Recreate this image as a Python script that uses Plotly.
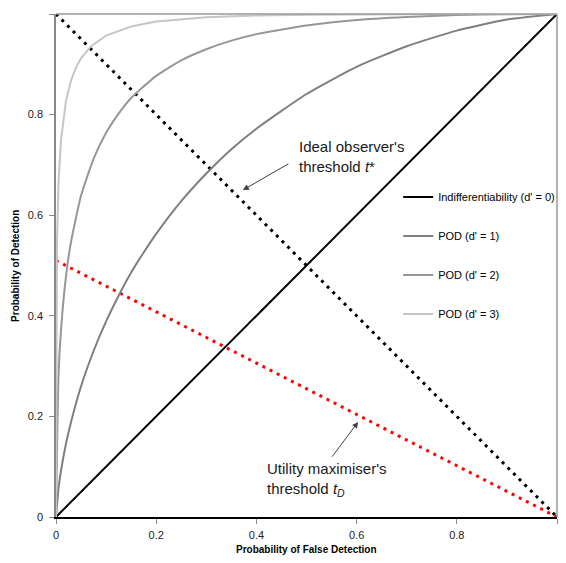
import plotly.graph_objects as go

# Indifferentiability line (d' = 0)
far_d0 = [0.0, 1.0]
pod_d0 = [0.0, 1.0]

# POD curves
far_d1 = [0, 0.005, 0.01, 0.02, 0.03, 0.05, 0.075, 0.1, 0.125, 0.15, 0.175, 0.2, 0.25, 0.3, 0.35, 0.4, 0.5, 0.6, 0.7, 0.8, 0.9, 1.0]
pod_d1 = [0, 0.057, 0.092, 0.146, 0.189, 0.260, 0.330, 0.389, 0.440, 0.486, 0.526, 0.563, 0.628, 0.683, 0.731, 0.772, 0.841, 0.895, 0.936, 0.967, 0.989, 1.0]

far_d2 = [0, 0.005, 0.01, 0.02, 0.03, 0.05, 0.075, 0.1, 0.125, 0.15, 0.2, 0.25, 0.3, 0.35, 0.4, 0.5, 0.6, 0.7, 0.8, 0.9, 1.0]
pod_d2 = [0, 0.282, 0.372, 0.479, 0.547, 0.639, 0.712, 0.764, 0.802, 0.833, 0.877, 0.908, 0.930, 0.947, 0.960, 0.977, 0.988, 0.994, 0.998, 0.9996, 1.0]

far_d3 = [0, 0.001, 0.002, 0.005, 0.01, 0.02, 0.03, 0.04, 0.05, 0.07, 0.1, 0.15, 0.2, 0.3, 0.4, 0.5, 0.6, 0.8, 1.0]
pod_d3 = [0, 0.464, 0.549, 0.664, 0.750, 0.828, 0.868, 0.894, 0.912, 0.936, 0.957, 0.975, 0.985, 0.9934, 0.997, 0.9987, 0.9995, 0.9999, 1.0]

# Threshold lines
ideal_x = [0.0, 1.0]
ideal_y = [1.0, 0.0]
utility_x = [0.0, 1.0]
utility_y = [0.51, 0.0]

tick_vals = [0, 0.2, 0.4, 0.6, 0.8, 1]
tick_text = ["0", "0.2", "0.4", "0.6", "0.8", "1"]

fig = go.Figure()

fig.add_trace(go.Scatter(x=ideal_x, y=ideal_y, mode="lines", showlegend=False,
                         line=dict(color="black", width=3, dash="3px,5px"), hoverinfo="skip"))
fig.add_trace(go.Scatter(x=utility_x, y=utility_y, mode="lines", showlegend=False,
                         line=dict(color="#ff0000", width=3, dash="3px,5px"), hoverinfo="skip"))

fig.add_trace(go.Scatter(x=far_d0, y=pod_d0, mode="lines", name="Indifferentiability (d' = 0)",
                         line=dict(color="black", width=2), legendgroup="a"))
fig.add_trace(go.Scatter(x=far_d1, y=pod_d1, mode="lines", name="POD (d' = 1)",
                         line=dict(color="#7f7f7f", width=2, shape="spline", smoothing=0.5), legendgroup="b"))
fig.add_trace(go.Scatter(x=far_d2, y=pod_d2, mode="lines", name="POD (d' = 2)",
                         line=dict(color="#979797", width=2, shape="spline", smoothing=0.5), legendgroup="c"))
fig.add_trace(go.Scatter(x=far_d3, y=pod_d3, mode="lines", name="POD (d' = 3)",
                         line=dict(color="#c6c6c6", width=2), legendgroup="d"))

# Annotations
fig.add_annotation(x=0.373, y=0.650, ax=0.467, ay=0.704, xref="x", yref="y", axref="x", ayref="y",
                   text="", showarrow=True, arrowhead=2, arrowsize=1.2, arrowwidth=1, arrowcolor="#404040")
fig.add_annotation(x=0.481, y=0.716, xref="x", yref="y", xanchor="left", yanchor="middle",
                   text="Ideal observer's<br>threshold <i>t</i>*", showarrow=False, align="left",
                   font=dict(family="Arial", size=15, color="#1a1a1a"))
fig.add_annotation(x=0.603, y=0.189, ax=0.549, ay=0.117, xref="x", yref="y", axref="x", ayref="y",
                   text="", showarrow=True, arrowhead=2, arrowsize=1.2, arrowwidth=1, arrowcolor="#404040")
fig.add_annotation(x=0.417, y=0.074, xref="x", yref="y", xanchor="left", yanchor="middle",
                   text="Utility maximiser's<br>threshold <i>t<sub>D</sub></i>", showarrow=False, align="left",
                   font=dict(family="Arial", size=15, color="#1a1a1a"))

# Axis titles
fig.add_annotation(x=0.5, y=-0.064, xref="paper", yref="paper", xanchor="center", yanchor="middle",
                   text="<b>Probability of False Detection</b>", showarrow=False,
                   font=dict(family="Arial", size=10, color="black"))
fig.add_annotation(x=-0.081, y=0.5, xref="paper", yref="paper", xanchor="center", yanchor="middle",
                   text="<b>Probability of Detection</b>", showarrow=False, textangle=-90,
                   font=dict(family="Arial", size=10, color="black"))

fig.update_layout(
    width=550, height=547,
    margin=dict(l=48, r=1, t=6, b=38, autoexpand=False),
    paper_bgcolor="white", plot_bgcolor="white",
    font=dict(family="Arial", size=11, color="#222222"),
    legend=dict(x=0.683, y=0.665, xanchor="left", yanchor="top", bgcolor="rgba(0,0,0,0)",
                font=dict(family="Arial", size=11, color="black"), tracegroupgap=20,
                traceorder="grouped", itemwidth=30),
    xaxis=dict(range=[0, 1], tickvals=tick_vals, ticktext=tick_text, showgrid=False, zeroline=False,
               showline=True, linecolor="black", linewidth=1.5, ticks="outside", ticklen=5,
               tickcolor="#888888", automargin=False, ticklabelstandoff=2),
    yaxis=dict(range=[0, 1], tickvals=tick_vals, ticktext=tick_text, showgrid=False, zeroline=False,
               showline=True, linecolor="#888888", linewidth=1.5, ticks="outside", ticklen=5,
               tickcolor="#888888", automargin=False, ticklabelstandoff=4),
)

# Top and right frame lines
fig.add_shape(type="line", xref="paper", yref="paper", x0=0, x1=1, y0=1, y1=1,
              line=dict(color="#999999", width=1.5))
fig.add_shape(type="line", xref="paper", yref="paper", x0=1, x1=1, y0=0, y1=1,
              line=dict(color="#999999", width=1.5))

fig.write_html("out.html")
